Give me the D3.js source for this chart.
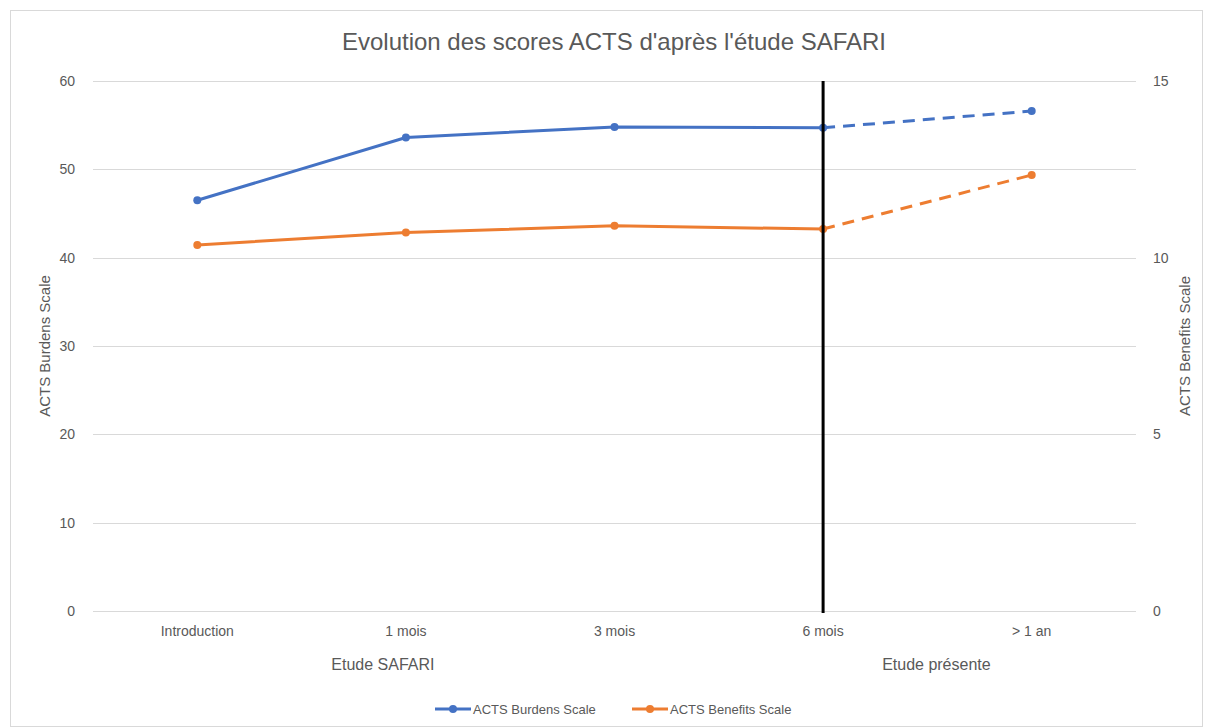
<!DOCTYPE html>
<html>
<head>
<meta charset="utf-8">
<script src="https://cdn.jsdelivr.net/npm/d3@7"></script>
<style>
  body { margin: 0; background: #fff; }
  text { font-family: "Liberation Sans Narrow", "Liberation Sans", sans-serif; }
</style>
</head>
<body>
<div id="chart"></div>
<script>
// data
var categories = ["Introduction", "1 mois", "3 mois", "6 mois", "> 1 an"];
var burdens = [46.5, 53.6, 54.8, 54.7, 56.6];
var benefits = [10.36, 10.71, 10.9, 10.81, 12.34];
var leftTicks = [0, 10, 20, 30, 40, 50, 60];
var rightTicks = [0, 5, 10, 15];
var studyLabels = ["Etude SAFARI", "Etude présente"];

var W = 1205, H = 728;
var margin = {top: 81, right: 69, bottom: 117, left: 93},
    width = W - margin.left - margin.right,
    height = H - margin.top - margin.bottom;

var svg = d3.select("#chart").append("svg")
  .attr("width", W).attr("height", H);

// chart border
svg.append("rect")
  .attr("x", 10.5).attr("y", 10.5)
  .attr("width", W - 13).attr("height", H - 12)
  .attr("fill", "none").attr("stroke", "#d9d9d9");

svg.append("text")
  .attr("x", 614).attr("y", 50)
  .attr("text-anchor", "middle")
  .attr("font-size", "24px").attr("fill", "#595959")
  .text("Evolution des scores ACTS d'après l'étude SAFARI");

var g = svg.append("g")
  .attr("transform", "translate(" + margin.left + "," + margin.top + ")");

var x = d3.scaleBand().domain(categories).range([0, width]);
var yL = d3.scaleLinear().domain([0, 60]).range([height, 0]);
var yR = d3.scaleLinear().domain([0, 15]).range([height, 0]);
var cx = function(c) { return x(c) + x.bandwidth() / 2; };

// gridlines
g.append("g").selectAll("line").data(leftTicks).enter().append("line")
  .attr("x1", 0).attr("x2", width)
  .attr("y1", function(d) { return Math.round(yL(d)) + 0.5; })
  .attr("y2", function(d) { return Math.round(yL(d)) + 0.5; })
  .attr("stroke", "#d9d9d9").attr("stroke-width", 1);

// left axis
var la = g.append("g").call(d3.axisLeft(yL).tickValues(leftTicks).tickSize(0).tickPadding(18));
la.select(".domain").remove();
la.selectAll("text").attr("font-size", "14px").attr("fill", "#595959")
  .style("font-family", "'Liberation Sans Narrow','Liberation Sans',sans-serif");

// right axis
var ra = g.append("g").attr("transform", "translate(" + width + ",0)")
  .call(d3.axisRight(yR).tickValues(rightTicks).tickSize(0).tickPadding(17));
ra.select(".domain").remove();
ra.selectAll("text").attr("font-size", "14px").attr("fill", "#595959")
  .style("font-family", "'Liberation Sans Narrow','Liberation Sans',sans-serif");

// x axis
var xa = g.append("g").attr("transform", "translate(0," + height + ")")
  .call(d3.axisBottom(x).tickSize(0).tickPadding(15));
xa.select(".domain").remove();
xa.selectAll("text").attr("font-size", "14px").attr("fill", "#595959")
  .style("font-family", "'Liberation Sans Narrow','Liberation Sans',sans-serif");

// axis titles
svg.append("text")
  .attr("transform", "translate(50," + (margin.top + height / 2) + ")rotate(-90)")
  .attr("text-anchor", "middle").attr("font-size", "15px").attr("fill", "#595959")
  .text("ACTS Burdens Scale");
svg.append("text")
  .attr("transform", "translate(1190," + (margin.top + height / 2) + ")rotate(-90)")
  .attr("text-anchor", "middle").attr("font-size", "15px").attr("fill", "#595959")
  .text("ACTS Benefits Scale");

// study labels under the axis
g.append("text")
  .attr("x", (cx(categories[0]) + cx(categories[2])) / 2 - 23)
  .attr("y", height + 59)
  .attr("text-anchor", "middle").attr("font-size", "16px").attr("fill", "#595959")
  .text(studyLabels[0]);
g.append("text")
  .attr("x", (cx(categories[3]) + cx(categories[4])) / 2 + 9)
  .attr("y", height + 59)
  .attr("text-anchor", "middle").attr("font-size", "16px").attr("fill", "#595959")
  .text(studyLabels[1]);

// draw a series: solid for the study, dashed for the last segment
function drawSeries(vals, yScale, color) {
  var pts = categories.map(function(c, i) { return [cx(c), yScale(vals[i])]; });
  var line = d3.line();
  g.append("path").datum(pts.slice(0, 4))
    .attr("d", line).attr("fill", "none")
    .attr("stroke", color).attr("stroke-width", 3).attr("stroke-linejoin", "round");
  g.append("path").datum(pts.slice(3))
    .attr("d", line).attr("fill", "none")
    .attr("stroke", color).attr("stroke-width", 3)
    .attr("stroke-dasharray", "12,8");
  g.append("g").selectAll("circle").data(pts).enter().append("circle")
    .attr("cx", function(d) { return d[0]; })
    .attr("cy", function(d) { return d[1]; })
    .attr("r", 4).attr("fill", color);
}
drawSeries(burdens, yL, "#4472C4");
drawSeries(benefits, yR, "#ED7D31");

// vertical separator at 6 mois
g.append("line")
  .attr("x1", cx(categories[3])).attr("x2", cx(categories[3]))
  .attr("y1", 0).attr("y2", height + 2)
  .attr("stroke", "#000").attr("stroke-width", 3);

// legend
var legend = [
  {name: "ACTS Burdens Scale", color: "#4472C4", x: 435},
  {name: "ACTS Benefits Scale", color: "#ED7D31", x: 632}
];
var lg = svg.append("g").selectAll("g").data(legend).enter().append("g")
  .attr("transform", function(d) { return "translate(" + d.x + ",709)"; });
lg.append("line").attr("x1", 0).attr("x2", 36).attr("y1", 0).attr("y2", 0)
  .attr("stroke", function(d) { return d.color; }).attr("stroke-width", 3);
lg.append("circle").attr("cx", 18).attr("cy", 0).attr("r", 4)
  .attr("fill", function(d) { return d.color; });
lg.append("text").attr("x", 38).attr("y", 5)
  .attr("font-size", "13px").attr("fill", "#595959")
  .text(function(d) { return d.name; });
</script>
</body>
</html>
